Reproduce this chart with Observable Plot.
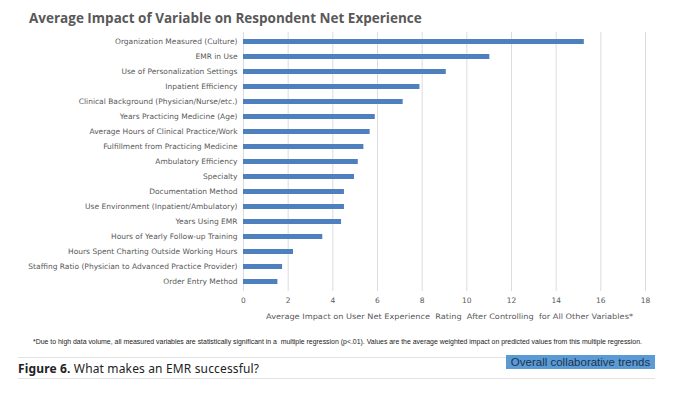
<!DOCTYPE html>
<html>
<head>
<meta charset="utf-8">
<script src="https://cdn.jsdelivr.net/npm/d3@7"></script>
<script src="https://cdn.jsdelivr.net/npm/@observablehq/plot@0.6"></script>
<style>
  html, body { margin: 0; padding: 0; background: #fff; }
  body { width: 674px; height: 395px; position: relative; overflow: hidden; font-family: "DejaVu Sans", sans-serif; }
  #title { position: absolute; left: 29px; top: 9px; font-family: "Open Sans", sans-serif; font-weight: 700; font-size: 13.5px; color: #595959; white-space: nowrap; }
  #chart { position: absolute; left: 0; top: 26px; }
  #xlabel { position: absolute; left: 266px; top: 312px; font-family: "DejaVu Sans", sans-serif; font-size: 7.5px; color: #595959; white-space: pre; transform-origin: 0 0; }
  #note { position: absolute; left: 33px; top: 338px; font-family: "Liberation Sans Narrow", "Liberation Sans", sans-serif; font-size: 6.6px; color: #222; white-space: nowrap; transform-origin: 0 0; }
  #rule1 { position: absolute; left: 18px; width: 488px; top: 357px; height: 0; border-top: 1px solid #e3e3e3; }
  #rule2 { position: absolute; left: 18px; width: 637px; top: 378px; height: 0; border-top: 1px solid #e3e3e3; }
  #fig { position: absolute; left: 18px; top: 360px; font-family: "Noto Sans", sans-serif; font-size: 12px; color: #222; white-space: nowrap; letter-spacing: 0.15px; }
  #fig b { font-weight: 700; }
  #badge { position: absolute; left: 506px; top: 355px; width: 149px; height: 14px; background: #5b9bd5; color: #1c3550; font-family: "Liberation Sans Narrow", "Liberation Sans", sans-serif; font-size: 11.5px; line-height: 14px; text-align: center; white-space: nowrap; }
</style>
</head>
<body>
<div id="title">Average Impact of Variable on Respondent Net Experience</div>
<div id="chart"></div>
<div id="xlabel">Average Impact on User Net Experience  Rating  After Controlling  for All Other Variables*</div>
<div id="note">*Due to high data volume, all measured variables are statistically significant in a&nbsp; multiple regression (p&lt;.01). Values are the average weighted impact on predicted values from this multiple regression.</div>
<div id="rule1"></div>
<div id="fig"><b>Figure 6.</b> What makes an EMR successful?</div>
<div id="badge">Overall collaborative trends</div>
<div id="rule2"></div>
<script>
const categories = [
  "Organization Measured (Culture)",
  "EMR in Use",
  "Use of Personalization Settings",
  "Inpatient Efficiency",
  "Clinical Background (Physician/Nurse/etc.)",
  "Years Practicing Medicine (Age)",
  "Average Hours of Clinical Practice/Work",
  "Fulfillment from Practicing Medicine",
  "Ambulatory Efficiency",
  "Specialty",
  "Documentation Method",
  "Use Environment (Inpatient/Ambulatory)",
  "Years Using EMR",
  "Hours of Yearly Follow-up Training",
  "Hours Spent Charting Outside Working Hours",
  "Staffing Ratio (Physician to Advanced Practice Provider)",
  "Order Entry Method"
];
const values = [15.26, 11.03, 9.08, 7.90, 7.15, 5.90, 5.67, 5.39, 5.14, 4.97, 4.52, 4.52, 4.39, 3.55, 2.24, 1.75, 1.54];
const xTicks = [0, 2, 4, 6, 8, 10, 12, 14, 16, 18];

const data = categories.map((c, i) => ({category: c, value: values[i]}));

const chart = Plot.plot({
  width: 674,
  height: 300,
  marginLeft: 243,
  marginRight: 29,
  marginTop: 6,
  marginBottom: 35,
  style: {fontFamily: "DejaVu Sans, sans-serif", fontSize: "7.5px", color: "#595959", background: "#fff", overflow: "visible"},
  x: {
    domain: [0, 18],
    ticks: xTicks,
    tickSize: 0,
    tickPadding: 6,
    label: null
  },
  y: {
    domain: categories,
    paddingInner: 0.64,
    paddingOuter: 0.3,
    tickSize: 0,
    tickPadding: 6,
    label: null
  },
  marks: [
    Plot.ruleX(xTicks, {stroke: "#dcdcdc", strokeWidth: 1}),
    Plot.barX(data, {x: "value", y: "category", fill: "#4e7fbf"})
  ]
});
document.getElementById("chart").appendChild(chart);

// fit the texts to the widths that they take in the reference
function fit(id, w) {
  const el = document.getElementById(id);
  const cw = el.getBoundingClientRect().width;
  if (cw > 0) el.style.transform = `scaleX(${w / cw})`;
}
fit("xlabel", 367);
fit("note", 609);
</script>
</body>
</html>
